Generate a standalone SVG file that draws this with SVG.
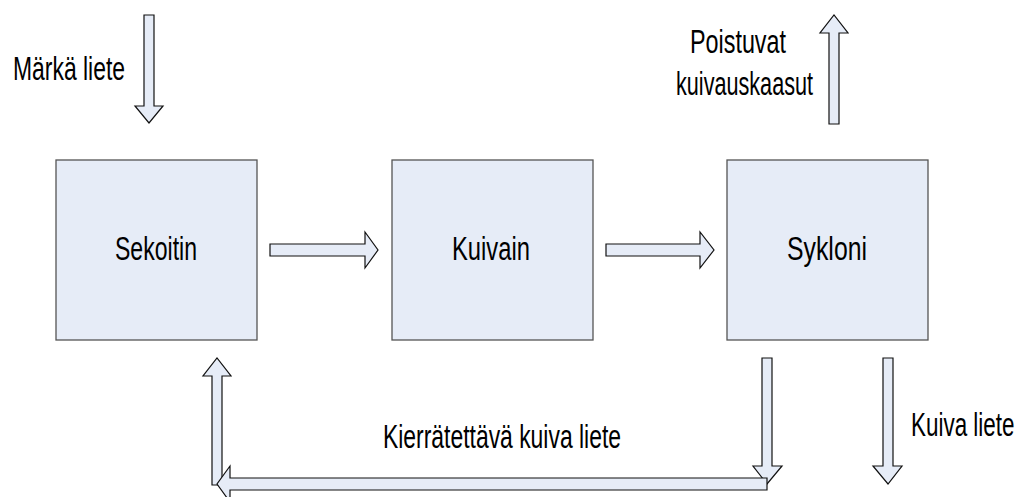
<svg xmlns="http://www.w3.org/2000/svg" width="1022" height="497" viewBox="0 0 1022 497">
<style>
.box{fill:#e6ecf7;stroke:#555;stroke-width:1.3}
.arr{fill:#e6ecf7;stroke:#111;stroke-width:1.2;stroke-linejoin:miter}
.t{font-family:"Liberation Sans",Arial,sans-serif;font-size:34px;fill:#000}
</style>
<rect width="1022" height="497" fill="#fff"/>
<g id="sekoitin"><rect class="box" x="56" y="160" width="201" height="180"/><text class="t" x="115" y="260" textLength="82" lengthAdjust="spacingAndGlyphs">Sekoitin</text></g>
<g id="kuivain"><rect class="box" x="392" y="160" width="201" height="180"/><text class="t" x="452" y="260" textLength="78" lengthAdjust="spacingAndGlyphs">Kuivain</text></g>
<g id="sykloni"><rect class="box" x="727" y="160" width="201" height="180"/><text class="t" x="787" y="260" textLength="80" lengthAdjust="spacingAndGlyphs">Sykloni</text></g>
<g id="connectors">
<polygon class="arr" points="144,15 154,15 154,106 163,106 149,123 135,106 144,106"/>
<polygon class="arr" points="829,124 839,124 839,33 848,33 834,15 820,33 829,33"/>
<polygon class="arr" points="270,244 365,244 365,232 378,250 365,268 365,256 270,256"/>
<polygon class="arr" points="606,244 700,244 700,232 714,250 700,268 700,256 606,256"/>
<polygon class="arr" points="762,358 772,358 772,466 782,466 767,484 753,466 762,466"/>
<polygon class="arr" points="883,358 893,358 893,466 902,466 888,484 873,466 883,466"/>
<polygon class="arr" points="212,485 222,485 222,376 231,376 217,358 203,376 212,376"/>
<polygon class="arr" points="767,478 767,490 230,490 230,502 217,484 230,466 230,478"/>
</g>
<g id="labels">
<text class="t" x="13" y="80" textLength="112" lengthAdjust="spacingAndGlyphs">Märkä liete</text>
<text class="t" x="690" y="53" textLength="96" lengthAdjust="spacingAndGlyphs">Poistuvat</text>
<text class="t" x="676" y="95" textLength="137" lengthAdjust="spacingAndGlyphs">kuivauskaasut</text>
<text class="t" x="383" y="448" textLength="238" lengthAdjust="spacingAndGlyphs">Kierrätettävä kuiva liete</text>
<text class="t" transform="translate(911,436) scale(0.66,1)">Kuiva liete</text>
</g>
</svg>
